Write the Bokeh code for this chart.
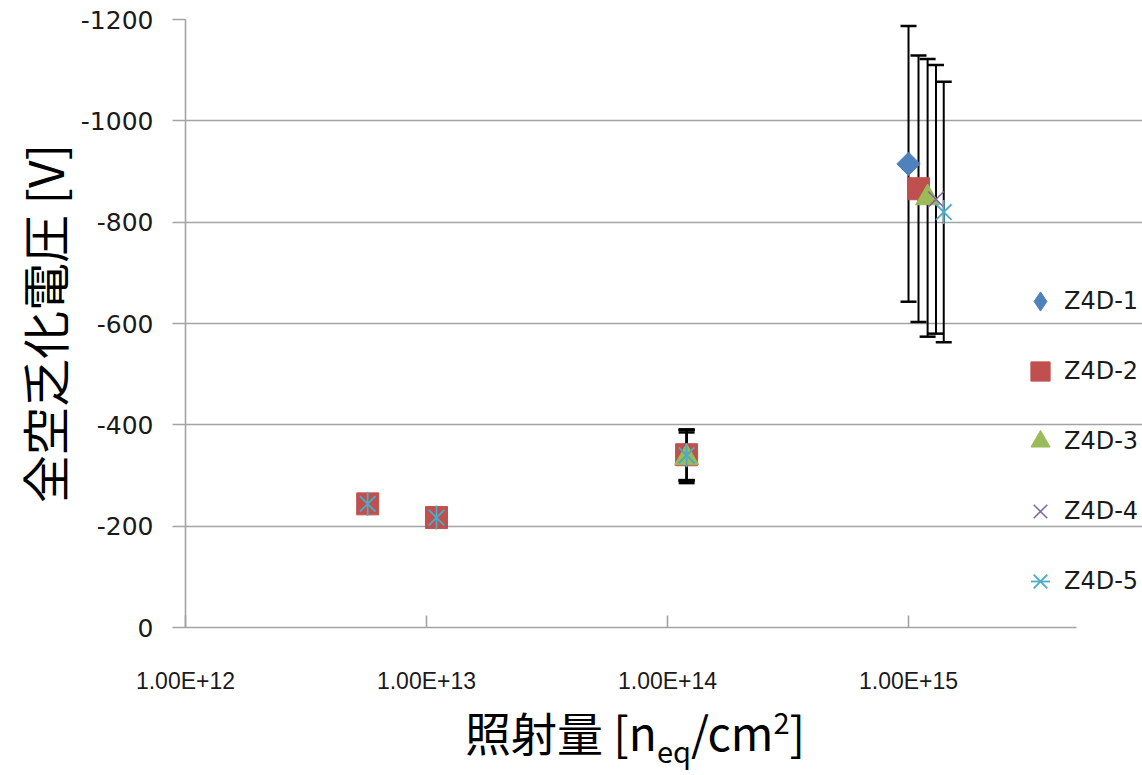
import numpy as np
from bokeh.plotting import figure
from bokeh.layouts import column
from bokeh.models import Range1d, FixedTicker, Legend, LegendItem, Div
from bokeh.embed import file_html
from bokeh.resources import INLINE

# Full depletion voltage vs. fluence, five Z4D sensors
series_names = ["Z4D-1", "Z4D-2", "Z4D-3", "Z4D-4", "Z4D-5"]

z1_fluence = [1.0e15]
z1_voltage = [-915]
z1_error = [272]

z2_fluence = [5.7e12, 1.1e13, 1.2e14, 1.1e15]
z2_voltage = [-244, -217, -341, -866]
z2_error = [0, 0, 50, 263]

z3_fluence = [1.2e14, 1.2e15]
z3_voltage = [-335, -848]
z3_error = [50, 274]

z4_fluence = [5.7e12, 1.1e13, 1.2e14, 1.3e15]
z4_voltage = [-244, -217, -340, -845]
z4_error = [0, 0, 50, 265]

z5_fluence = [5.7e12, 1.1e13, 1.2e14, 1.4e15]
z5_voltage = [-244, -217, -340, -820]
z5_error = [0, 0, 50, 257]

y_ticks = [0, -200, -400, -600, -800, -1000, -1200]
x_ticks = [1e12, 1e13, 1e14, 1e15]
x_tick_labels = ["1.00E+12", "1.00E+13", "1.00E+14", "1.00E+15"]

colors = ["#4F81BD", "#C0504D", "#9BBB59", "#8064A2", "#4BACC6"]
GRID = "#a3a3a3"
TICK_FONT = "DejaVu Sans"
XTICK_FONT = "Liberation Sans"
CJK = "Noto Sans CJK JP"

p = figure(width=1142, height=700, x_axis_type="log",
           x_range=Range1d(1e12, 9.35e15), y_range=Range1d(0, -1200),
           output_backend="svg", toolbar_location=None,
           min_border_left=185, min_border_right=0,
           min_border_top=19, min_border_bottom=73)
p.outline_line_color = None
p.background_fill_color = "white"
p.border_fill_color = "white"

# grid and axes
p.xgrid.grid_line_color = None
p.ygrid.grid_line_color = GRID
p.ygrid.grid_line_width = 1.6
p.ygrid.ticker = FixedTicker(ticks=y_ticks)

xa = p.xaxis[0]
xa.ticker = FixedTicker(ticks=x_ticks, minor_ticks=[])
xa.major_label_overrides = dict(zip(x_ticks, x_tick_labels))
xa.bounds = (1e12, 5e15)
xa.axis_line_color = GRID
xa.axis_line_width = 1.6
xa.major_tick_line_color = GRID
xa.major_tick_line_width = 1.6
xa.major_tick_in = 12
xa.major_tick_out = 0
xa.minor_tick_line_color = None
xa.major_label_text_font = XTICK_FONT
xa.major_label_text_font_size = "23px"
xa.major_label_text_color = "#1a1a1a"
xa.major_label_standoff = 40

ya = p.yaxis[0]
ya.ticker = FixedTicker(ticks=y_ticks, minor_ticks=[])
ya.major_label_overrides = {t: str(t) for t in y_ticks}
ya.axis_line_color = GRID
ya.axis_line_width = 1.6
ya.major_tick_line_color = GRID
ya.major_tick_line_width = 1.6
ya.major_tick_in = 0
ya.major_tick_out = 13
ya.minor_tick_line_color = None
ya.major_label_text_font = TICK_FONT
ya.major_label_text_font_size = "25px"
ya.major_label_text_color = "#1a1a1a"
ya.major_label_standoff = 19
ya.axis_label = "全空乏化電圧 [V]"
ya.axis_label_text_font = CJK
ya.axis_label_text_font_size = "48px"
ya.axis_label_text_font_style = "normal"
ya.axis_label_text_color = "black"
ya.axis_label_standoff = 0

# error bars drawn first so the markers sit on top
all_series = [
    (z1_fluence, z1_voltage, z1_error),
    (z2_fluence, z2_voltage, z2_error),
    (z3_fluence, z3_voltage, z3_error),
    (z4_fluence, z4_voltage, z4_error),
    (z5_fluence, z5_voltage, z5_error),
]
for fl, v, e in all_series:
    fl = np.array(fl); v = np.array(v, dtype=float); e = np.array(e, dtype=float)
    m = e > 0
    lo = v[m] + e[m]
    hi = v[m] - e[m]
    p.segment(fl[m], lo, fl[m], hi, line_color="black", line_width=2)
    p.scatter(np.concatenate([fl[m], fl[m]]), np.concatenate([lo, hi]),
              marker="dash", size=16, line_color="black", line_width=2.5)

r1 = p.scatter(z1_fluence, z1_voltage, marker="square", angle=np.pi / 4, size=16.5,
               fill_color=colors[0], line_color=colors[0])
r2 = p.scatter(z2_fluence, z2_voltage, marker="square", size=22,
               fill_color=colors[1], line_color=colors[1])
r3 = p.scatter(z3_fluence, z3_voltage, marker="triangle", size=24,
               fill_color=colors[2], line_color=colors[2])
r4 = p.scatter(z4_fluence, z4_voltage, marker="x", size=22,
               line_color=colors[3], line_width=1.5)
r5a = p.scatter(z5_fluence, z5_voltage, marker="x", size=22,
                line_color=colors[4], line_width=1.8)
r5b = p.scatter(z5_fluence, z5_voltage, marker="dash", angle=np.pi / 2, size=24,
                line_color=colors[4], line_width=1.8)

# legend key for the diamond series (legend icons are always drawn unrotated)
r1_key = p.scatter(x=[np.nan], y=[np.nan], marker="diamond", size=24,
                   fill_color=colors[0], line_color=colors[0])

legend = Legend(items=[
    LegendItem(label=series_names[0], renderers=[r1_key]),
    LegendItem(label=series_names[1], renderers=[r2]),
    LegendItem(label=series_names[2], renderers=[r3]),
    LegendItem(label=series_names[3], renderers=[r4]),
    LegendItem(label=series_names[4], renderers=[r5a, r5b]),
], location=(831, 22), orientation="vertical")
legend.background_fill_alpha = 0
legend.border_line_color = None
legend.glyph_width = 48
legend.glyph_height = 48
legend.label_standoff = 0
legend.spacing = 22
legend.padding = 0
legend.margin = 0
legend.label_text_font = TICK_FONT
legend.label_text_font_size = "24px"
legend.label_text_color = "#1a1a1a"
p.add_layout(legend, "center")

# x-axis title with subscript and superscript
xtitle = Div(
    text='照射量 [n<span style="font-size:29px; position:relative; top:12px;">eq</span>'
         '/cm<span style="font-size:29px; position:relative; top:-17px;">2</span>]',
    width=1142, height=75,
    styles={"font-family": "'Noto Sans CJK JP'", "font-size": "46px",
            "line-height": "52px", "color": "black", "padding-left": "460px",
            "white-space": "nowrap"})

open("out.html", "w").write(file_html(column(p, xtitle, spacing=0), INLINE))
